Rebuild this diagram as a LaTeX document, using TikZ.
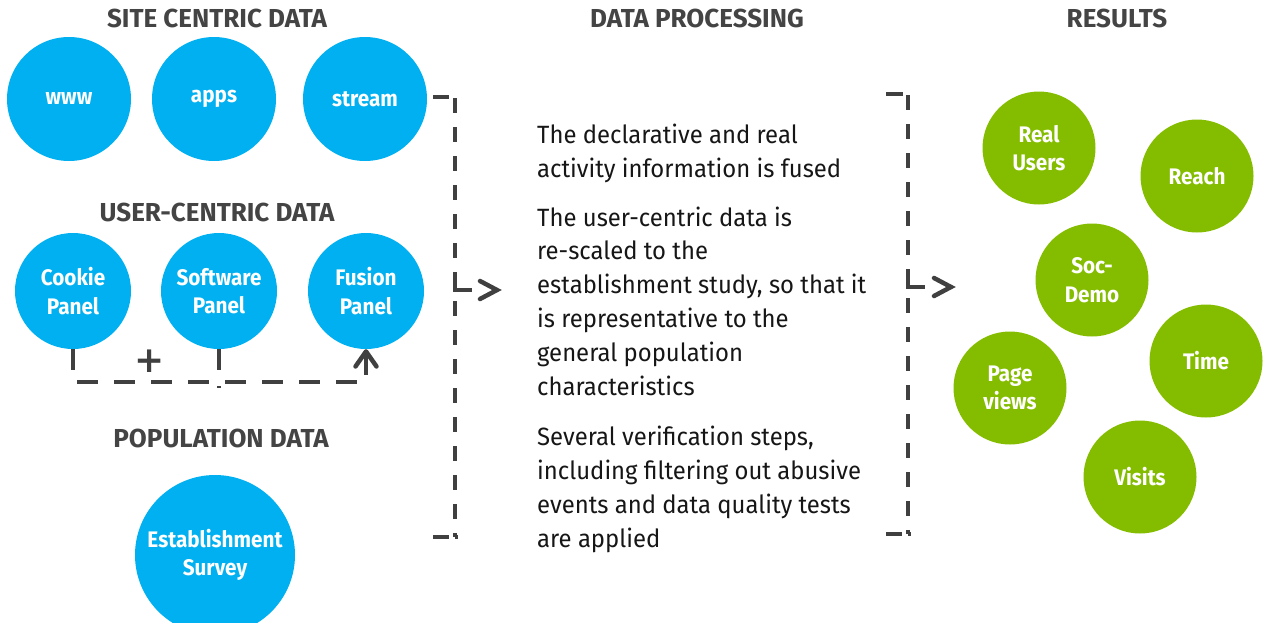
\documentclass[tikz,border=0pt]{standalone}
\usepackage{fontspec}
\setmainfont{Fira Sans}
\newfontfamily\ballfont{Fira Sans}[FakeStretch=0.92]
\newfontfamily\bodyfont{Fira Sans}[FakeStretch=0.955]
\newfontfamily\symfont{DejaVu Sans}
\usetikzlibrary{arrows.meta}

\definecolor{cyanball}{HTML}{00B0F0}
\definecolor{greenball}{HTML}{84BD00}
\definecolor{ink}{HTML}{404040}
\definecolor{headgray}{HTML}{444444}
\definecolor{bodyink}{HTML}{161616}

\tikzset{
  heading/.style={font=\bfseries\fontsize{26}{30}\selectfont, text=headgray, inner sep=0},
  ball/.style={circle, inner sep=0, align=center, text=white,
    font=\ballfont\bfseries\fontsize{22.5}{28.5}\selectfont},
  srcball/.style={ball, fill=cyanball, minimum size=#1},
  resball/.style={ball, fill=greenball, minimum size=113pt},
  % the base anchor of a multi-line node sits on its last line
  bodytext/.style={inner sep=0, align=left, anchor=base west, text=bodyink,
    font=\bodyfont\fontsize{25}{33.8}\selectfont},
  brk/.style={draw=ink, line width=4pt, dash pattern=on 15pt off 14pt},
  tick/.style={draw=ink, line width=4pt},
  chev/.style={draw=ink, line width=4.5pt, line cap=round, line join=miter},
  joinline/.style={draw=ink, line width=4pt, dash pattern=on 21pt off 16pt},
}

\begin{document}
\begin{tikzpicture}[x=1pt, y=-1pt]
\useasboundingbox (0,0) rectangle (1264,622);

% column headings
\node[heading] (h1) at (217,18) {SITE CENTRIC DATA};
\node[heading] (h2) at (217,212) {USER-CENTRIC DATA};
\node[heading] (h3) at (221,438) {POPULATION DATA};
\node[heading] (h4) at (697,18) {DATA PROCESSING};
\node[heading] (h5) at (1117,18) {RESULTS};

% site centric sources
\node[srcball=124pt] (www) at (69,99) {www};
\node[srcball=124pt] (apps) at (214,99) {apps};
\node[srcball=124pt] (stream) at (365,99) {stream};

% user centric sources
\node[srcball=116pt] (cookie) at (73,291) {Cookie\\Panel};
\node[srcball=116pt] (software) at (219,291) {Software\\Panel};
\node[srcball=116pt] (fusion) at (366,291) {Fusion\\Panel};

% population
\node[srcball=160pt] (survey) at (215,555) {Establishment\\Survey};

% panels combined into the fusion panel
\coordinate (bus) at (0,382);
\draw[joinline, -{Straight Barb[length=15pt, width=21pt, line width=4.5pt, round]}]
  (cookie.south) |- (bus -| fusion.south) -- (fusion.south);
\draw[joinline] (software.south) -- ([yshift=-6pt]software.south |- bus);
\node[font=\symfont\bfseries\fontsize{36}{36}\selectfont, text=ink, inner sep=0] (plus) at (150,361) {+};

% processing text
\node[bodytext] (p1) at (537,177) {The declarative and real\\activity information is fused};
\node[bodytext] (p2) at (537,395) {The user-centric data is\\re-scaled to the\\establishment study, so that it\\is representative to the\\general population\\characteristics};
\node[bodytext] (p3) at (537,547) {Several verification steps,\\including filtering out abusive\\events and data quality tests\\are applied};

% left bracket
\draw[tick] (433,97) -- (449,97);
\draw[brk] (455,98) -- (455,537);
\draw[tick] (433,537) -- (449,537);
\draw[tick] (455,537) -- (458,537);
\coordinate (lmid) at (455,290);
\draw[tick] (455,273) -- (lmid) -- (472,290);
\coordinate (ltip) at (497,290);
\draw[chev] (480,281) -- (ltip) -- (480,299);

% right bracket
\draw[tick] (886,94) -- (903,94);
\draw[brk] (908,95) -- (908,534);
\draw[tick] (886,534) -- (902,534);
\draw[tick] (908,534) -- (911,534);
\coordinate (rmid) at (908,287);
\draw[tick] (908,270) -- (rmid) -- (925,287);
\coordinate (rtip) at (951,287);
\draw[chev] (934,278) -- (rtip) -- (934,296);

% results
\node[resball] (real) at (1039,148) {Real\\Users};
\node[resball] (reach) at (1197,176) {Reach};
\node[resball] (soc) at (1092,280) {Soc-\\Demo};
\node[resball] (page) at (1010,388) {Page\\views};
\node[resball] (time) at (1206,361) {Time};
\node[resball] (visits) at (1140,477) {Visits};
\end{tikzpicture}
\end{document}
